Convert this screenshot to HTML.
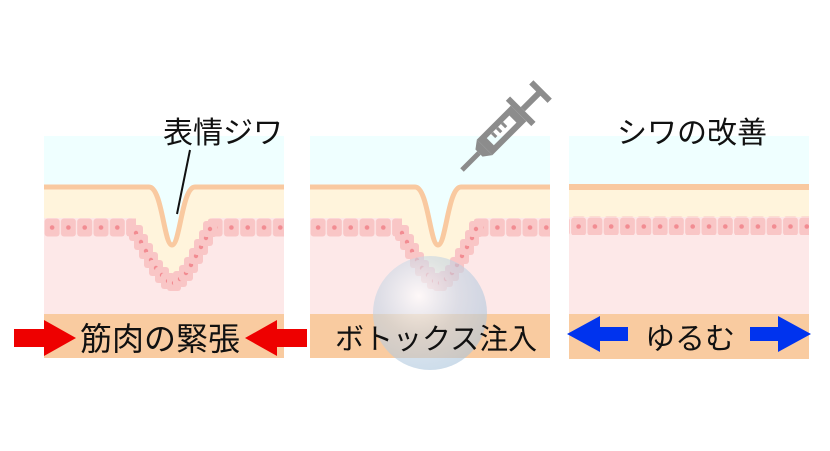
<!DOCTYPE html>
<html><head><meta charset="utf-8"><style>
body{margin:0;background:#fff;width:830px;height:451px;overflow:hidden}
svg{display:block}
text{font-family:"Liberation Sans","Noto Sans CJK JP",sans-serif;fill:#111}
</style></head><body>
<svg width="830" height="451" viewBox="0 0 830 451">
<defs>
<pattern id="cells" x="0" y="218" width="16.3" height="19" patternUnits="userSpaceOnUse">
<rect x="0.6" y="0.5" width="15" height="18" rx="3" fill="#f9c6c6"/>
<circle cx="8.1" cy="9.5" r="2.3" fill="#f28c92"/>
</pattern>
<g id="cell"><rect x="-7" y="-8" width="14" height="16" rx="3" fill="#f9c6c6"/><circle r="2.2" fill="#f28c92"/></g>
<g id="groove">
<rect x="0" y="136" width="240" height="178" fill="#fde8e8"/>
<rect x="0" y="187" width="240" height="31" fill="#fff4dc"/>
<polygon points="88,218 168,218 128,282" fill="#fff4dc"/>
<rect x="0" y="218" width="92" height="19" fill="url(#cells)"/>
<rect x="164" y="218" width="76" height="19" fill="url(#cells)"/>
<g>
<use href="#cell" x="92" y="233"/><use href="#cell" x="97" y="242"/><use href="#cell" x="102" y="251"/><use href="#cell" x="107" y="260"/><use href="#cell" x="112" y="268"/><use href="#cell" x="118" y="275"/><use href="#cell" x="124" y="281"/><use href="#cell" x="130" y="283"/>
<use href="#cell" x="136" y="279"/><use href="#cell" x="142" y="273"/><use href="#cell" x="147" y="265"/><use href="#cell" x="152" y="256"/><use href="#cell" x="157" y="247"/><use href="#cell" x="162" y="238"/><use href="#cell" x="166" y="229"/>
</g>
<path d="M0,136 H240 V187 H151 C138,187 136,245 128,245 C120,245 118,187 105,187 H0 Z" fill="#efffff"/>
<path d="M0,187 H105 C118,187 120,245 128,245 C136,245 138,187 151,187 H240" fill="none" stroke="#f9c9a0" stroke-width="5"/>
<rect x="0" y="314" width="240" height="44" fill="#f9cba0"/>
</g>
<radialGradient id="bub" cx="0.4" cy="0.35" r="0.7">
<stop offset="0" stop-color="#ffffff" stop-opacity="0.7"/>
<stop offset="0.5" stop-color="#c8d6e4" stop-opacity="0.6"/>
<stop offset="1" stop-color="#a9c4dc" stop-opacity="0.6"/>
</radialGradient>
</defs>

<use href="#groove" x="44"/>
<use href="#groove" x="310"/>

<!-- panel 3 -->
<rect x="569" y="136" width="240" height="178" fill="#fde8e8"/>
<rect x="569" y="136" width="240" height="48" fill="#efffff"/>
<rect x="569" y="184" width="240" height="6" fill="#f9c9a0"/>
<rect x="569" y="190" width="240" height="27" fill="#fff4dc"/>
<rect x="569" y="217" width="240" height="19" fill="url(#cells)" transform="translate(0,-1)"/>
<rect x="569" y="314" width="240" height="45" fill="#f9cba0"/>

<!-- leader -->
<line x1="190" y1="150" x2="177" y2="214" stroke="#111" stroke-width="2"/>

<!-- syringe -->
<g transform="translate(462,170) rotate(-45)" fill="#8c8c8c">
<rect x="0" y="-2.5" width="24" height="5"/>
<path d="M24,-5 L32,-11 L32,11 L24,5 Z"/>
<path d="M32,-11 H80 V11 H32 Z M40,-5 V5 H72 V-5 Z" fill-rule="evenodd"/>
<rect x="46" y="-5" width="3" height="6"/>
<rect x="53" y="-5" width="3" height="6"/>
<rect x="60" y="-5" width="3" height="6"/>
<rect x="80" y="-18" width="6" height="36"/>
<rect x="86" y="-3" width="24" height="6"/>
<rect x="108" y="-13" width="6" height="26"/>
</g>

<circle cx="430" cy="313" r="57" fill="url(#bub)"/>

<!-- arrows -->
<polygon points="14,329 44,329 44,320 76,338 44,356 44,347 14,347" fill="#ee0000"/>
<polygon points="307,329 277,329 277,320 245,338 277,356 277,347 307,347" fill="#ee0000"/>
<polygon points="628,327 600,327 600,316 567,334 600,352 600,341 628,341" fill="#0033ee"/>
<polygon points="750,327 778,327 778,316 811,334 778,352 778,341 750,341" fill="#0033ee"/>

<text x="163" y="143" font-size="30">表情ジワ</text>
<text x="617" y="143" font-size="30">シワの改善</text>
<text x="80" y="350" font-size="32">筋肉の緊張</text>
<text x="335" y="349" font-size="29">ボトックス注入</text>
<text x="645" y="349" font-size="30">ゆるむ</text>
</svg>
</body></html>
